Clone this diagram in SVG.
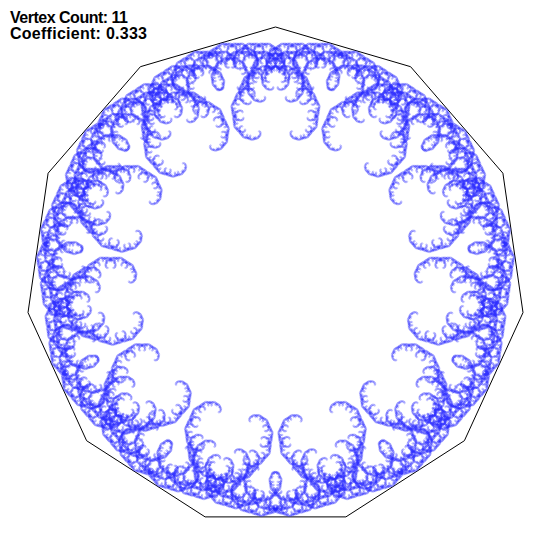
<svg xmlns="http://www.w3.org/2000/svg" width="550" height="550" viewBox="0 0 550 550">
<style>text{font-family:"Liberation Sans",Arial,sans-serif;font-weight:bold;font-size:16px;fill:#000}</style>
<defs>
<circle id="g1" cy="-83.25" r="150" fill="none" stroke="#3030ff" stroke-opacity=".5" stroke-width="50"/>
<g id="g2" transform="translate(0,-83.25) scale(.667)"><use href="#g1" transform="rotate(32.72727)"/><use href="#g1" transform="rotate(-32.72727)"/></g>
<g id="g3" transform="translate(0,-83.25) scale(.667)"><use href="#g2" transform="rotate(32.72727)"/><use href="#g2" transform="rotate(-32.72727)"/></g>
<g id="g4" transform="translate(0,-83.25) scale(.667)"><use href="#g3" transform="rotate(32.72727)"/><use href="#g3" transform="rotate(-32.72727)"/></g>
<g id="g5" transform="translate(0,-83.25) scale(.667)"><use href="#g4" transform="rotate(32.72727)"/><use href="#g4" transform="rotate(-32.72727)"/></g>
<g id="g6" transform="translate(0,-83.25) scale(.667)"><use href="#g5" transform="rotate(32.72727)"/><use href="#g5" transform="rotate(-32.72727)"/></g>
<g id="g7" transform="translate(0,-83.25) scale(.667)"><use href="#g6" transform="rotate(32.72727)"/><use href="#g6" transform="rotate(-32.72727)"/></g>
<g id="g8" transform="translate(0,-83.25) scale(.667)"><use href="#g7" transform="rotate(32.72727)"/><use href="#g7" transform="rotate(-32.72727)"/></g>
<g id="g9" transform="translate(0,-83.25) scale(.667)"><use href="#g8" transform="rotate(32.72727)"/><use href="#g8" transform="rotate(-32.72727)"/></g>
<g id="g10" transform="translate(0,-83.25) scale(.667)"><use href="#g9" transform="rotate(32.72727)"/><use href="#g9" transform="rotate(-32.72727)"/></g>
<g id="g11" transform="translate(0,-83.25) scale(.667)"><use href="#g10" transform="rotate(32.72727)"/><use href="#g10" transform="rotate(-32.72727)"/></g>
<g id="g12" transform="translate(0,-83.25) scale(.667)"><use href="#g11" transform="rotate(32.72727)"/><use href="#g11" transform="rotate(-32.72727)"/></g>
<g id="g13" transform="translate(0,-83.25) scale(.667)"><use href="#g12" transform="rotate(32.72727)"/><use href="#g12" transform="rotate(-32.72727)"/></g>
<g id="g14" transform="translate(0,-83.25) scale(.667)"><use href="#g13" transform="rotate(32.72727)"/><use href="#g13" transform="rotate(-32.72727)"/></g>
</defs>
<polygon points="275.5,27 410.6,66.7 502.9,173.2 523,312.6 464.4,440.7 345.9,516.9 205.1,516.9 86.6,440.7 28,312.6 48.1,173.2 140.4,66.7" fill="none" stroke="#000" stroke-width="1"/>
<g id="fractal" transform="translate(275.5,277)">
<use href="#g14"/><use href="#g14" transform="rotate(32.72727)"/><use href="#g14" transform="rotate(65.45454)"/><use href="#g14" transform="rotate(98.18182)"/><use href="#g14" transform="rotate(130.90909)"/><use href="#g14" transform="rotate(163.63636)"/><use href="#g14" transform="rotate(196.36364)"/><use href="#g14" transform="rotate(229.09091)"/><use href="#g14" transform="rotate(261.81818)"/><use href="#g14" transform="rotate(294.54545)"/><use href="#g14" transform="rotate(327.27273)"/>
</g>
<text x="10" y="23" textLength="118" lengthAdjust="spacing">Vertex Count: 11</text>
<text x="10" y="39" textLength="137" lengthAdjust="spacing">Coefficient: 0.333</text>
</svg>
